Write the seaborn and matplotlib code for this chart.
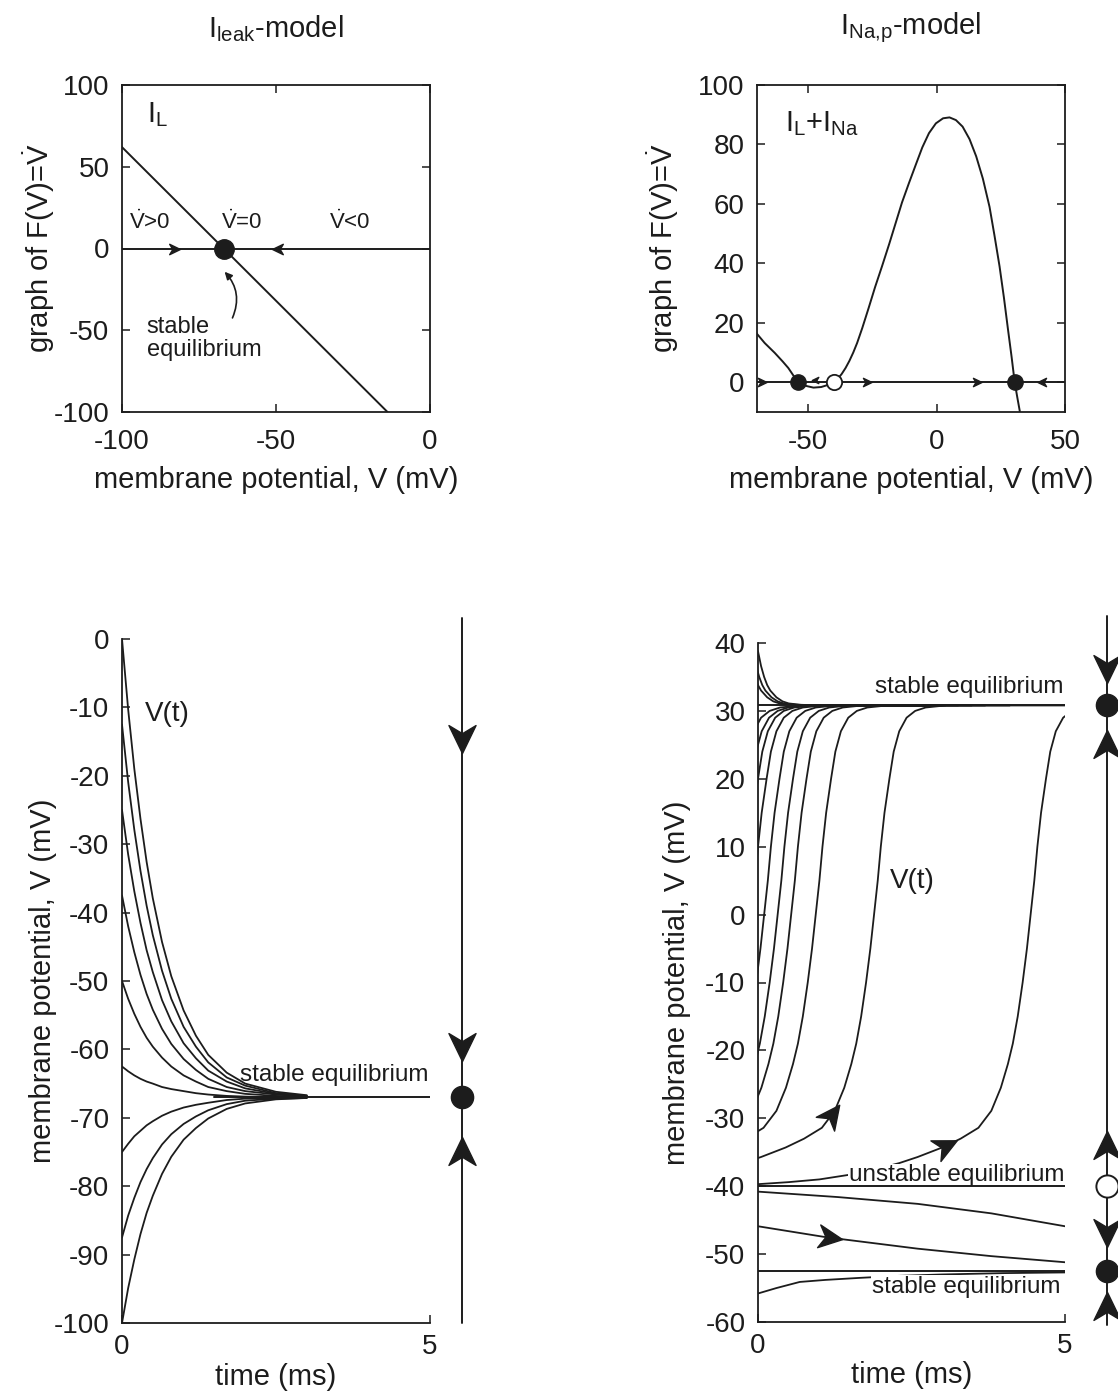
import numpy as np
import pandas as pd
import matplotlib
matplotlib.use("Agg")
import matplotlib.pyplot as plt
import seaborn as sns
from matplotlib.path import Path
from matplotlib.markers import MarkerStyle
from matplotlib.transforms import Affine2D

# ---------------- data ----------------
# top left: leak current, F(V) is a straight line
leak_v = [-100, -67, -13.8]
leak_f = [62, 0, -100]
leak_eq = -67

# top right: persistent sodium + leak, F(V)
nap_v = [-70.3, -67, -63.1, -60, -57.8, -56, -54, -51, -48, -45, -42, -40, -38.5, -37,
         -35.5, -34, -32.5, -31, -29, -26.5, -24, -21.3, -18.5, -16, -13.5, -10.8, -8,
         -5.6, -3, -0.3, 2.5, 5, 7.5, 10.1, 12.8, 15.4, 18, 20.6, 22.5, 24.5, 26.2, 27.8,
         29.2, 30.4, 31.4, 32.4]
nap_f = [16.6, 13.2, 9.9, 7.0, 4.8, 2.5, 0, -1.2, -1.8, -1.6, -0.8, 0, 1.2, 2.8,
         4.8, 7.2, 10.0, 13.2, 18.2, 25.0, 32, 39, 46.5, 53.5, 60.5, 67, 73.5,
         79.0, 83.8, 87.1, 88.8, 89.1, 88.2, 86, 81.8, 76, 68.5, 59, 49.5, 39, 28.5, 17.7,
         8.5, 0, -5, -9.8]
nap_stable = [-54, 30.5]
nap_unstable = [-40]

# bottom left: V(t) of the leak model for several initial values
leak_t = [0, 0.1, 0.2, 0.3, 0.4, 0.5, 0.65, 0.8, 1.0, 1.2, 1.4, 1.7, 2.0, 2.5, 3.0]
leak_traces = [
    [0, -10.3, -19.0, -26.3, -32.6, -37.9, -44.3, -49.3, -54.3, -58.0, -60.8, -63.4, -65.0, -66.2, -66.7],
    [-12.5, -20.9, -27.9, -33.9, -39.0, -43.3, -48.5, -52.6, -56.7, -59.6, -61.9, -64.1, -65.3, -66.4, -66.8],
    [-25, -31.5, -36.9, -41.5, -45.5, -48.7, -52.8, -55.9, -59.1, -61.3, -63.1, -64.7, -65.7, -66.5, -66.8],
    [-37.5, -42.0, -45.8, -49.1, -51.9, -54.2, -57.0, -59.2, -61.4, -63.0, -64.3, -65.5, -66.1, -66.6, -66.9],
    [-50, -52.6, -54.8, -56.7, -58.3, -59.6, -61.2, -62.5, -63.8, -64.7, -65.5, -66.1, -66.5, -66.8, -66.9],
    [-62.5, -63.2, -63.8, -64.3, -64.7, -65.0, -65.5, -65.8, -66.1, -66.4, -66.6, -66.8, -66.9, -67.0, -67.0],
    [-75, -73.8, -72.7, -71.9, -71.1, -70.5, -69.7, -69.1, -68.5, -68.1, -67.8, -67.4, -67.2, -67.1, -67.0],
    [-87.5, -84.3, -81.7, -79.4, -77.5, -75.9, -73.9, -72.4, -70.9, -69.8, -68.9, -68.0, -67.5, -67.2, -67.1],
    [-100, -94.9, -90.7, -87.0, -83.9, -81.4, -78.2, -75.7, -73.2, -71.5, -70.1, -68.7, -67.9, -67.3, -67.1],
]
leak_eq_t = [1.5, 5]

# bottom right: every trajectory of a 1-D system is a time shift of one read-off trajectory
up_tau = [0.0, 0.5, 1.0, 1.5, 2.0, 2.3, 2.6, 3.0, 3.3, 3.59, 3.8, 3.955, 4.07, 4.15, 4.23,
          4.31, 4.38, 4.44, 4.50, 4.55, 4.61, 4.69, 4.76, 4.85, 4.97, 5.11, 5.28, 5.6, 7.6]
up_v = [-39.7, -39.4, -39.0, -38.3, -37.3, -36.6, -35.7, -34.3, -33.0, -31.4, -28.9, -25.5,
        -22.0, -19.0, -15.0, -10.0, -5.0, 0.0, 5.0, 10.0, 15.0, 20.0, 24.0, 27.0, 29.0,
        30.0, 30.5, 30.8, 30.8]
up_shift = [0, 2.55, 3.5, 3.9, 4.12, 4.34, 4.55, 4.69, 4.79, 4.92]

top_tau = [0, 0.05, 0.1, 0.15, 0.2, 0.3, 0.4, 0.5, 0.7, 1.0, 3.0]
top_v = [38.8, 36.6, 35.0, 33.8, 33.0, 32.0, 31.4, 31.1, 30.9, 30.8, 30.8]
top_shift = [0, 0.08, 0.15]

mid_tau = [0, 1.3, 2.6, 3.8, 5.0, 6.1, 7.6, 8.8, 10.0]
mid_v = [-40.8, -41.6, -42.6, -44.0, -45.9, -47.5, -49.2, -50.3, -51.2]
mid_shift = [0, 5.0]

low_t = [0, 0.3, 0.68, 1.1, 1.66, 2.3, 3.0, 4.0, 5.0]
low_v = [-55.8, -55.0, -54.1, -53.8, -53.5, -53.2, -53.0, -52.8, -52.7]

nap_eq_lines = [30.8, -40, -52.5]

# phase lines next to the V(t) plots
ph_left_span = [3, -100]
ph_left_down = [-14, -59]
ph_left_up = [-75.5]
ph_right_span = [44, -60.5]
ph_right_down = [36.8, -46.3]
ph_right_up = [24.5, -34.5, -58.2]
ph_right_filled = [30.8, -52.5]
ph_right_open = [-40]

# ---------------- style ----------------
sns.set_theme(style="ticks")
plt.rcParams["font.family"] = ["Liberation Sans", "DejaVu Sans"]
plt.rcParams["mathtext.fontset"] = "custom"
plt.rcParams["mathtext.rm"] = "Liberation Sans"
plt.rcParams["mathtext.it"] = "Liberation Sans:italic"
plt.rcParams["mathtext.bf"] = "Liberation Sans:bold"
plt.rcParams["axes.unicode_minus"] = False

INK = "#1c1c1c"
LW = 1.4
HEAD = Path([(0, -1), (-0.75, 0.55), (0, 0.1), (0.75, 0.55), (0, -1)],
            [Path.MOVETO, Path.LINETO, Path.LINETO, Path.LINETO, Path.CLOSEPOLY])


def head(angle):
    # barbed arrow head pointing to `angle` degrees (0 = right)
    return MarkerStyle(HEAD, transform=Affine2D().rotate_deg(angle + 90))


def arrow(ax, x, y, angle, ms):
    ax.plot([x], [y], marker=head(angle), ms=ms, color=INK, mec=INK, ls="none",
            clip_on=False, zorder=6)


W, H = 1118, 1399


def box(x0, y0, x1, y1):
    return [x0 / W, 1 - y1 / H, (x1 - x0) / W, (y1 - y0) / H]


fig = plt.figure(figsize=(W / 100, H / 100), dpi=100)
ax_tl = fig.add_axes(box(122, 85, 430, 412))
ax_tr = fig.add_axes(box(757, 85, 1065, 412))
ax_bl = fig.add_axes(box(122, 639, 430, 1323))
ax_br = fig.add_axes(box(758, 643, 1065, 1322))
ph_l = fig.add_axes(box(452, 639, 472, 1323))
ph_r = fig.add_axes(box(1097, 643, 1117, 1322))

for ax in (ax_tl, ax_tr):
    ax.tick_params(direction="in", length=6, width=1.1, labelsize=20, top=True,
                   right=True, colors=INK)
    ax.tick_params(axis="x", pad=12)
    ax.tick_params(axis="y", pad=9)
    for s in ax.spines.values():
        s.set_linewidth(1.3)
        s.set_color(INK)
for ax in (ax_bl, ax_br):
    sns.despine(ax=ax)
    ax.tick_params(direction="in", length=6, width=1.1, labelsize=20, colors=INK)
    ax.tick_params(axis="x", pad=8)
    ax.tick_params(axis="y", pad=9)
    for s in ax.spines.values():
        s.set_linewidth(1.3)
        s.set_color(INK)

# ---------------- top left ----------------
sns.lineplot(x=leak_v, y=leak_f, ax=ax_tl, color=INK, lw=LW)
ax_tl.axhline(0, color=INK, lw=LW)
ax_tl.plot([leak_eq], [0], "o", ms=14, color=INK, zorder=6)
arrow(ax_tl, -83.5, 0, 0, 10)
arrow(ax_tl, -49, 0, 180, 10)
ax_tl.set_xlim(-100, 0)
ax_tl.set_ylim(-100, 100)
ax_tl.set_xticks([-100, -50, 0])
ax_tl.set_yticks([-100, -50, 0, 50, 100])
ax_tl.text(-92, 91, r"$\mathregular{I_L}$", fontsize=21, va="top", color=INK)
ax_tl.text(-91, 9, r"$\dot{\mathrm{V}}$>0", fontsize=16, ha="center", va="bottom", color=INK)
ax_tl.text(-61, 9, r"$\dot{\mathrm{V}}$=0", fontsize=16, ha="center", va="bottom", color=INK)
ax_tl.text(-26, 9, r"$\dot{\mathrm{V}}$<0", fontsize=16, ha="center", va="bottom", color=INK)
ax_tl.text(-92, -41, "stable\nequilibrium", fontsize=17, ha="left", va="top",
           linespacing=1.1, color=INK)
ax_tl.annotate("", xy=(-67.3, -13), xytext=(-64.5, -44),
               arrowprops=dict(arrowstyle="-|>", connectionstyle="arc3,rad=0.35",
                               color=INK, lw=1.2, mutation_scale=11))
ax_tl.set_xlabel("membrane potential, V (mV)", fontsize=21, color=INK)
ax_tl.set_ylabel(r"graph of F(V)=$\dot{\mathrm{V}}$", fontsize=21, color=INK)
ax_tl.xaxis.set_label_coords(0.5, -0.165)
ax_tl.yaxis.set_label_coords(-0.21, 0.5)
ax_tl.text(0.5, 1.174, r"$\mathregular{I_{leak}}$-model", transform=ax_tl.transAxes,
           fontsize=21, ha="center", va="center", color=INK)

# ---------------- top right ----------------
sns.lineplot(x=nap_v, y=nap_f, ax=ax_tr, color=INK, lw=LW, sort=False)
ax_tr.axhline(0, color=INK, lw=LW)
ax_tr.plot(nap_stable, [0] * len(nap_stable), "o", ms=11, color=INK, zorder=6)
ax_tr.plot(nap_unstable, [0] * len(nap_unstable), "o", ms=11, mfc="white", mec=INK,
           mew=1.3, zorder=6)
arrow(ax_tr, -68.5, 0, 0, 8)
arrow(ax_tr, -47, 0.6, 180, 6)
arrow(ax_tr, -27.6, 0, 0, 8)
arrow(ax_tr, 15.4, 0, 0, 8)
arrow(ax_tr, 41.5, 0, 180, 8)
ax_tr.set_xlim(-70, 50)
ax_tr.set_ylim(-10, 100)
ax_tr.set_xticks([-50, 0, 50])
ax_tr.set_yticks([0, 20, 40, 60, 80, 100])
ax_tr.text(-59, 92, r"$\mathregular{I_L{+}I_{Na}}$", fontsize=21, va="top", color=INK)
ax_tr.set_xlabel("membrane potential, V (mV)", fontsize=21, color=INK)
ax_tr.set_ylabel(r"graph of F(V)=$\dot{\mathrm{V}}$", fontsize=21, color=INK)
ax_tr.xaxis.set_label_coords(0.5, -0.165)
ax_tr.yaxis.set_label_coords(-0.247, 0.5)
ax_tr.text(0.5, 1.174, r"$\mathregular{I_{Na{,}p}}$-model", transform=ax_tr.transAxes,
           fontsize=21, ha="center", va="center", color=INK)

# ---------------- bottom left ----------------
df_bl = pd.DataFrame({
    "t": np.tile(leak_t, len(leak_traces)),
    "V": np.concatenate(leak_traces),
    "curve": np.repeat(np.arange(len(leak_traces)), len(leak_t)),
})
sns.lineplot(data=df_bl, x="t", y="V", units="curve", estimator=None, color=INK,
             lw=1.3, ax=ax_bl)
ax_bl.plot(leak_eq_t, [leak_eq, leak_eq], color=INK, lw=LW)
ax_bl.set_xlim(0, 5)
ax_bl.set_ylim(-100, 0)
ax_bl.set_xticks([0, 5])
ax_bl.set_yticks(np.arange(-100, 1, 10))
ax_bl.text(0.37, -11, "V(t)", fontsize=20, va="center", color=INK)
ax_bl.text(4.98, -64.6, "stable equilibrium", fontsize=17.5, ha="right", va="baseline",
           color=INK)
ax_bl.set_xlabel("time (ms)", fontsize=21, color=INK)
ax_bl.set_ylabel("membrane potential, V (mV)", fontsize=21, color=INK)
ax_bl.xaxis.set_label_coords(0.5, -0.058)
ax_bl.yaxis.set_label_coords(-0.21, 0.5)

# ---------------- bottom right ----------------
parts = []
for k, s in enumerate(up_shift):
    parts.append(pd.DataFrame({"t": np.array(up_tau) - s, "V": up_v, "curve": f"up{k}"}))
for k, s in enumerate(top_shift):
    parts.append(pd.DataFrame({"t": np.array(top_tau) - s, "V": top_v, "curve": f"top{k}"}))
for k, s in enumerate(mid_shift):
    parts.append(pd.DataFrame({"t": np.array(mid_tau) - s, "V": mid_v, "curve": f"mid{k}"}))
parts.append(pd.DataFrame({"t": low_t, "V": low_v, "curve": "low"}))
df_br = pd.concat(parts, ignore_index=True)
sns.lineplot(data=df_br, x="t", y="V", units="curve", estimator=None, color=INK,
             lw=1.3, ax=ax_br, zorder=2)
for v in nap_eq_lines:
    ax_br.plot([0, 5], [v, v], color=INK, lw=LW, zorder=5)
arrow(ax_br, 1.17, -29.8, 53, 22)
arrow(ax_br, 3.02, -34.3, 26, 22)
arrow(ax_br, 1.12, -47.5, -8, 22)
ax_br.set_xlim(0, 5)
ax_br.set_ylim(-60, 40)
ax_br.set_xticks([0, 5])
ax_br.set_yticks(np.arange(-60, 41, 10))
bb = dict(facecolor="white", edgecolor="none", pad=0.5)
ax_br.text(4.97, 32.6, "stable equilibrium", fontsize=17.5, ha="right", va="baseline",
           color=INK)
ax_br.text(4.99, -39.3, "unstable equilibrium", fontsize=17.5, ha="right", va="baseline",
           color=INK, bbox=bb, zorder=4)
ax_br.text(4.93, -53.2, "stable equilibrium", fontsize=17.5, ha="right", va="top",
           color=INK, bbox=bb, zorder=4)
ax_br.text(2.14, 5, "V(t)", fontsize=20, va="center", color=INK)
ax_br.set_xlabel("time (ms)", fontsize=21, color=INK)
ax_br.set_ylabel("membrane potential, V (mV)", fontsize=21, color=INK)
ax_br.xaxis.set_label_coords(0.5, -0.058)
ax_br.yaxis.set_label_coords(-0.218, 0.5)

# ---------------- phase lines ----------------
for ph, ylim in ((ph_l, (-100, 0)), (ph_r, (-60, 40))):
    ph.set_xlim(-1, 1)
    ph.set_ylim(*ylim)
    ph.axis("off")

ph_l.plot([0, 0], ph_left_span, color=INK, lw=LW, clip_on=False)
for v in ph_left_down:
    arrow(ph_l, 0, v, -90, 26)
for v in ph_left_up:
    arrow(ph_l, 0, v, 90, 26)
ph_l.plot([0], [leak_eq], "o", ms=16, color=INK, clip_on=False, zorder=7)

ph_r.plot([0, 0], ph_right_span, color=INK, lw=LW, clip_on=False)
for v in ph_right_down:
    arrow(ph_r, 0, v, -90, 26)
for v in ph_right_up:
    arrow(ph_r, 0, v, 90, 26)
ph_r.plot([0] * len(ph_right_filled), ph_right_filled, "o", ms=16, color=INK,
          clip_on=False, zorder=7, ls="none")
ph_r.plot([0] * len(ph_right_open), ph_right_open, "o", ms=16, mfc="white", mec=INK,
          mew=1.4, clip_on=False, zorder=7, ls="none")

fig.savefig("out.png", dpi=100, facecolor="white")
